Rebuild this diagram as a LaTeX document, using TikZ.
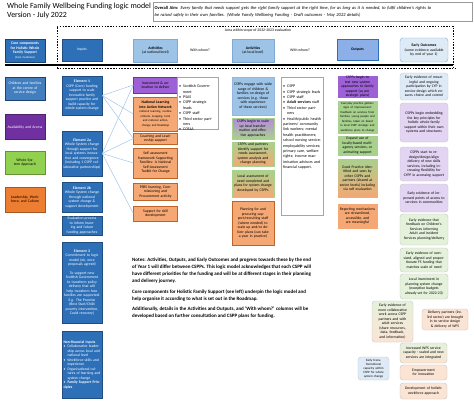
\documentclass[tikz,border=0pt]{standalone}
\usepackage{fontspec}
\setmainfont{Carlito}
\usetikzlibrary{positioning}
\definecolor{wfBlue}{RGB}{46,112,184}
\definecolor{wfLightBlue}{RGB}{157,195,230}
\definecolor{wfPurple}{RGB}{112,48,160}
\definecolor{wfViolet}{RGB}{158,96,214}
\definecolor{wfGreen}{RGB}{146,208,80}
\definecolor{wfLightGreen}{RGB}{169,209,142}
\definecolor{wfOrange}{RGB}{237,125,49}
\definecolor{wfSalmon}{RGB}{245,168,116}
\definecolor{paleBlue}{RGB}{222,235,247}
\definecolor{palePurple}{RGB}{226,212,242}
\definecolor{paleGreen}{RGB}{228,241,219}
\definecolor{paleOrange}{RGB}{251,228,212}
\newcommand{\tinytext}{\fontsize{3.75}{4.5}\selectfont}
\newcommand{\itm}[1]{\par\hangindent=4pt\hangafter=1\noindent\makebox[4pt][l]{\textbullet}#1}
\tikzset{
  box/.style = {draw, align=center, inner sep=1pt, font=\tinytext},
  hdrBox/.style = {box, minimum height=23},
  coreBox/.style = {box, draw=wfBlue!60!black, minimum width=40, text width=36pt},
  inputBox/.style = {box, fill=wfBlue, draw=wfBlue!70!black, text=white, minimum width=40, text width=37pt},
  actBox/.style = {box, draw=wfOrange!80!black, line width=0.3pt, text width=38pt},
  withBox/.style = {box, draw=gray!70, align=left, inner sep=2pt, anchor=north west, text height=3pt, font=\fontsize{4}{5.4}\selectfont},
  outBox/.style = {box, draw=white, line width=0.6pt, minimum width=41, text width=37pt},
  earlyBox/.style = {box, rounded corners=3pt, draw=gray!45, line width=0.4pt, minimum width=48, text width=42pt},
  link/.style = {draw=wfLightBlue, line width=0.45pt},
  scopeLine/.style = {line width=0.9pt, dash pattern=on 1.4pt off 1.4pt},
}

\begin{document}
\begin{tikzpicture}[x=1pt, y=-1pt]
  \useasboundingbox[fill=white] (0,0) rectangle (474,405);

  % ----------------------------------------------------------------------
  % Title, aim and header band
  % ----------------------------------------------------------------------
  \node[anchor=north west, align=left, inner sep=0pt, font=\fontsize{7.9}{8.6}\selectfont] (title) at (7,3) {Whole Family Wellbeing Funding logic model\\Version - July 2022};
  \node[draw=gray!80, line width=0.4pt, anchor=north west, align=left, inner sep=1.5pt, text width=316pt, minimum height=19, font=\fontsize{4.5}{6.4}\selectfont] (aim) at (153,2) {\textbf{Overall Aim:} \textit{Every family that needs support gets the right family support at the right time, for as long as it is needed, to fulfil children's rights to}\\\textit{be raised safely in their own families. (Whole Family Wellbeing Funding - Draft outcomes - May 2022 details)}};

  \draw[scopeLine] (57,68) -- (57,26) -- (453,26) -- (453,68);
  \draw[dash pattern=on 1.6pt off 1.2pt, line width=0.5pt] (57,68) -- (456,68);
  \draw[line width=1.3pt] (5,65) -- (453,65);
  \node[font=\fontsize{3.8}{4.4}\selectfont] (scopeText) at (258,30.5) {Area within scope of 2022-2023 evaluation};

  \node[hdrBox, coreBox, fill=wfBlue, text=white] (hCore) at (25,50.5) {\textbf{Core components for Holistic Whole Family Support}\\{\fontsize{3}{3.6}\selectfont (Core Guidance)}};
  \node[hdrBox, inputBox, minimum height=22] (hInputs) at (82,50) {Inputs};
  \node[hdrBox, box, fill=wfLightBlue, draw=wfBlue!60, minimum width=44] (hActNat) at (155.5,50.5) {\textbf{Activities}\\(at national level)};
  \node[font=\tinytext] (hWithNat) at (200,50.5) {With whom?};
  \node[hdrBox, box, fill=wfLightBlue, draw=wfBlue!60, minimum width=42] (hActLoc) at (253,50.5) {\textbf{Activities}\\(at local level)};
  \node[font=\tinytext] (hWithLoc) at (300,50.5) {With whom?};
  \node[box, fill=wfLightBlue!90!blue, draw=wfBlue, line width=0.5pt, minimum width=41, minimum height=21] (hOutputs) at (357.5,49.5) {\textbf{Outputs}};
  \node[earlyBox, fill=paleBlue, draw=wfBlue!60, minimum height=24] (hEarly) at (424,50) {\textbf{Early Outcomes}\\(some evidence available by end of year 1)};

  % ----------------------------------------------------------------------
  % Core components
  % ----------------------------------------------------------------------
  \node[coreBox, fill=wfBlue!90!white, text=white, minimum height=23] (children) at (25,88.5) {Children and families at the centre of service design};
  \node[coreBox, fill=wfPurple, draw=wfPurple!70!black, text=white, minimum height=25] (access) at (25,127) {Availability and Access};
  \node[coreBox, fill=wfGreen, draw=wfGreen!70!black, minimum height=23] (wholeSys) at (25,162.5) {Whole System Approach};
  \node[coreBox, fill=wfOrange, draw=wfOrange!70!black, minimum height=25] (leadership) at (25,199.5) {Leadership, Workforce, and Culture};

  % ----------------------------------------------------------------------
  % Inputs
  % ----------------------------------------------------------------------
  \node[inputBox, minimum height=39] (e1) at (82,95.5) {\textbf{Element 1}\\CSPP (Core) funding support to scale innovative family support practice and build capacity for whole system change};
  \node[inputBox, minimum height=45] (e2a) at (82,153.5) {\textbf{Element 2a}\\Whole System change through support for local systems innovation and convergence (including 1 CSPP collaborative partnerships)};
  \node[inputBox, minimum height=30] (e2b) at (82,197) {\textbf{Element 2b}\\Whole System change through national system change \& support development};
  \node[inputBox, minimum height=19] (evalIn) at (82,225.5) {Evaluation process to inform learning and future funding approaches};
  \node[inputBox, minimum height=81] (e3) at (82,282.5) {\textbf{Element 3}\\Commitment to logic model (ok, once proposals agreed)\\[4pt]To support new Scottish Government to transform policy delivery that will help transform how families are supported.\\E.g. The Promise (Best Start/Child poverty intervention, Covid recovery)};
  \node[inputBox, align=left, minimum height=67] (nonFin) at (82,364.5) {\textbf{Non-financial inputs}\itm{Collaborative leadership across local and national level}\itm{Workforce skills and experience}\itm{Organisational cultures of learning and system change}\itm{\textbf{Family Support Principles}}};

  % ----------------------------------------------------------------------
  % Activities at national level
  % ----------------------------------------------------------------------
  \node[actBox, fill=wfViolet, draw=wfPurple, minimum width=44, minimum height=16] (invest) at (155.5,85) {Investment \& animation to deliver};
  \node[actBox, fill=wfSalmon, minimum width=44, minimum height=34] (nla) at (155.5,114) {\textbf{National Learning into Action Network}\\{\fontsize{3}{3.6}\selectfont national learning, routine rollouts, mapping, local and national action, change and Roadmap}};
  \node[actBox, fill=wfSalmon, minimum width=44, minimum height=11] (coach) at (155.5,138.5) {Coaching and Leadership support};
  \node[actBox, fill=wfSalmon, minimum width=44, minimum height=30] (selfAssess) at (155.5,163) {Self assessment framework Supporting Families: A National Self-Assessment Toolkit for Change};
  \node[actBox, fill=wfSalmon, minimum width=44, minimum height=17] (psrs) at (155.5,191.5) {PSRS learning, Commissioning and Procurement activity};
  \node[actBox, fill=wfSalmon, minimum width=44, minimum height=15] (skills) at (155.5,213.5) {Support for skill development};

  \node[withBox, text width=37pt, text depth=45pt] (withNat) at (177,77) {\itm{Scottish Government}\itm{PSAS}\itm{CSPP strategic leads}\itm{CSPP staff}\itm{Third sector partners}\itm{COSLA}};

  % ----------------------------------------------------------------------
  % Activities at local level
  % ----------------------------------------------------------------------
  \node[actBox, fill=wfLightBlue, draw=wfBlue!50, minimum width=42, minimum height=38] (engage) at (253,96) {CSPPs engage with wide range of children \& families on design of services (e.g. those with experience of these services)};
  \node[actBox, top color=wfViolet!75, bottom color=wfLightGreen, draw=wfLightGreen, minimum width=42, minimum height=21] (scaleUp) at (253,128.5) {CSPPs begin to scale up local transformation and effective approaches};
  \node[actBox, top color=wfLightGreen, bottom color=wfSalmon, draw=wfLightGreen, minimum width=42, minimum height=24] (identify) at (253,154) {CSPPs and partners identify support for needs assessment, system analysis and change planning};
  \node[actBox, top color=wfLightGreen, bottom color=wfSalmon, draw=wfLightGreen, minimum width=42, minimum height=27] (localAssess) at (253,183.5) {Local assessment of need completed and plans for system change developed by CSPPs};
  \node[actBox, fill=wfSalmon, minimum width=42, minimum height=44] (planning) at (253,223) {Planning for and procuring support/recruiting staff (where needed) to scale up and/or deliver plans (can take a year in practice)};

  \node[withBox, text width=38pt, text depth=131pt] (withLoc) at (281,77) {\itm{CSPP}\itm{CSPP strategic leads}\itm{CSPP staff}\itm{\textbf{Adult services} staff}\itm{Third sector partners}\itm{Health/public health partners/ community link workers; mental health practitioners; school nursing service; employability services; primary care, welfare rights; income maximisation advisors and financial support.}};

  % ----------------------------------------------------------------------
  % Outputs
  % ----------------------------------------------------------------------
  \node[outBox, fill=wfViolet, minimum height=22] (testNew) at (357.5,87) {CSPPs begin to test new system approaches to family support (as per strategic plans)};
  \node[outBox, fill=wfLightGreen, minimum height=34] (everyday) at (357.5,117) {{\fontsize{3}{3.7}\selectfont Everyday practice gathers signs of improvement: feedback on services from families, young people and families, taken on board in local CSPP strategic and workforce plans to change}};
  \node[outBox, fill=wfLightGreen, minimum height=21] (expand) at (357.5,145.5) {Expand use of locally-based multi-agency services, or animating support};
  \node[outBox, top color=wfLightGreen, bottom color=wfSalmon, minimum height=40] (goodPractice) at (357.5,178) {Good Practice identified and seen by other CSPPs and partners (shared at sector levels) including via self evaluation};
  \node[outBox, fill=wfSalmon, minimum height=26] (reporting) at (357.5,216) {Reporting mechanisms are streamlined, accessible, and are meaningful};

  % ----------------------------------------------------------------------
  % Early outcomes
  % ----------------------------------------------------------------------
  \node[earlyBox, fill=paleBlue, minimum height=27] (eoVoice) at (424,86.5) {Early evidence of meaningful and ongoing participation by CYP in service design which ensures choice and control};
  \node[earlyBox, fill=palePurple, minimum height=39] (eoPrinciples) at (424,122.5) {CSPPs begin embedding the key principles for holistic whole family support within their own systems and structures};
  \node[earlyBox, fill=palePurple, minimum height=34] (eoRedesign) at (424,164) {CSPPs start to redesign/design/align delivery of new skills services, including increasing flexibility for CYPF in accessing support};
  \node[earlyBox, fill=palePurple, minimum height=28] (eoAccess) at (424,198) {Early evidence of improved points of access to services in communities};
  \node[earlyBox, fill=paleGreen, minimum height=31] (eoFeedback) at (424,229.5) {Early evidence that feedback on Children's Services informing Adult and Incident Services planning/delivery};
  \node[earlyBox, fill=paleGreen, minimum height=24] (eoFunding) at (424,260) {Early evidence of own-sized, aligned and proportionate FS funding that matches scale of need};
  \node[earlyBox, fill=paleGreen, minimum height=25] (eoInvest) at (424,286.5) {Local investment in planning system change (exception budgets already set for 2022-23)};
  \node[earlyBox, top color=paleGreen, bottom color=paleOrange, minimum width=41, text width=36pt, minimum height=41] (eoCollab) at (392.5,321.5) {Early evidence of more collaborative work across CSPP partners and with adult services (share resources, data, feedback, and information)};
  \node[earlyBox, fill=paleOrange, minimum width=46, text width=41pt, minimum height=21] (eoPartners) at (445,319.5) {Delivery partners (inc. 3rd sector) are brought in to service design \& delivery of WFS};
  \node[earlyBox, top color=paleGreen, bottom color=paleOrange, minimum width=47, minimum height=20] (eoCapacity) at (423.5,353) {Increased WFS service capacity - scaled and new services are integrated};
  \node[earlyBox, fill=paleOrange, minimum width=47, minimum height=15] (eoInnov) at (423.5,372.5) {Empowerment for innovation};
  \node[earlyBox, fill=paleOrange, minimum width=47, minimum height=16] (eoWorkforce) at (423.5,391) {Development of holistic workforce approach};
  \node[earlyBox, fill=paleBlue, minimum width=31, text width=27pt, minimum height=23, font=\fontsize{3.2}{3.9}\selectfont] (eoTransform) at (373.5,368.5) {Early transformational capacity within CSPP for whole system change};

  % ----------------------------------------------------------------------
  % Links from inputs to national activities
  % ----------------------------------------------------------------------
  \foreach \t in {invest,nla,coach} {
    \draw[link] (e1.east) -- (\t.west);
  }
  \foreach \t in {invest,coach,selfAssess,skills} {
    \draw[link] (e2a.east) -- (\t.west);
  }

  % Notes
  \node[anchor=north west, align=left, inner sep=0pt, font=\bfseries\fontsize{5}{7}\selectfont] (notes) at (132,258) {Notes: Activities, Outputs, and Early Outcomes and progress towards these by the end\\of Year 1 will differ between CSPPs. This logic model acknowledges that each CSPP will\\have different priorities for the funding and will be at different stages in their planning\\and delivery journey.\\[3.5pt]Core components for Holistic Family Support (see left) underpin the logic model and\\help organise it according to what is set out in the Roadmap.\\[3.5pt]Additionally, details in the Activities and Outputs, and `With whom?' columns will be\\developed based on further consultation and CSPP plans for funding.};
\end{tikzpicture}
\end{document}
